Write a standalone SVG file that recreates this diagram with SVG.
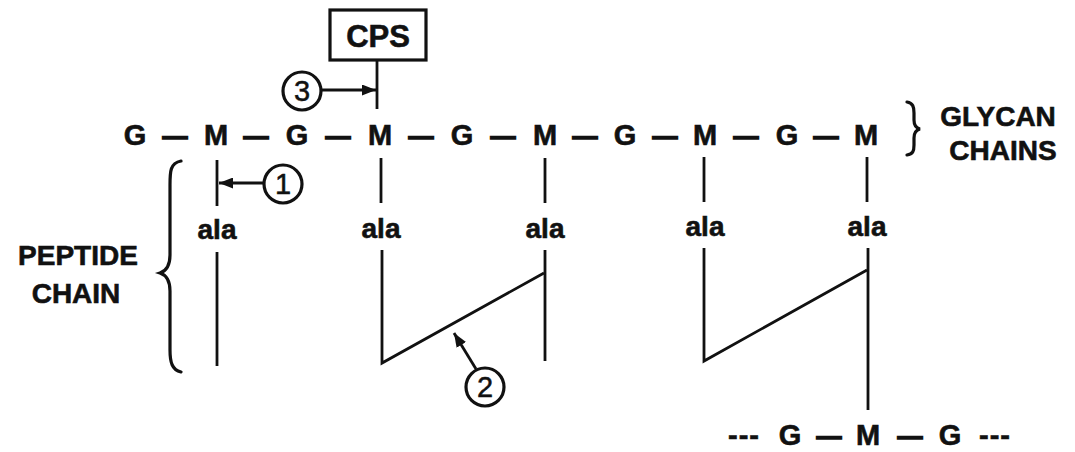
<svg xmlns="http://www.w3.org/2000/svg" width="1075" height="452" viewBox="0 0 1075 452">
<defs>
<style>
.t{font-family:"Liberation Sans",Arial,sans-serif;font-weight:bold;fill:#111;stroke:#111;stroke-width:0.6;text-anchor:middle}
.g{font-size:29px}
.d{font-size:25px;stroke-width:1.4}
.a{font-size:28px}
.n{font-family:"Liberation Sans",Arial,sans-serif;font-size:29px;fill:#111;stroke:#111;stroke-width:0.5;text-anchor:middle}
.ln{stroke:#111;stroke-width:2.8;fill:none;stroke-linecap:butt}
.c{stroke:#111;stroke-width:3.2;fill:#fff}
.br{fill:none;stroke:#111;stroke-width:3.2;stroke-linecap:round}
</style>
<marker id="ah" viewBox="0 0 14 11" refX="14" refY="5.5" markerWidth="14" markerHeight="11" markerUnits="userSpaceOnUse" orient="auto">
<path d="M0,0 L14,5.5 L0,11 z" fill="#111"/>
</marker>
</defs>
<rect width="1075" height="452" fill="#fff"/>

<g id="connectors">
<line class="ln" x1="377" y1="60" x2="377" y2="109"/>
<line class="ln" x1="217" y1="160" x2="217" y2="206"/>
<line class="ln" x1="217" y1="252" x2="217" y2="366"/>
<line class="ln" x1="381" y1="158" x2="381" y2="203"/>
<polyline class="ln" points="382,250 382,363 544,273"/>
<line class="ln" x1="545" y1="158" x2="545" y2="203"/>
<line class="ln" x1="545" y1="250" x2="545" y2="361"/>
<line class="ln" x1="704" y1="157" x2="704" y2="202"/>
<polyline class="ln" points="704,248 704,361 867,270"/>
<line class="ln" x1="867" y1="157" x2="867" y2="202"/>
<line class="ln" x1="868" y1="248" x2="868" y2="410"/>
<line class="ln" x1="263" y1="183" x2="219" y2="183" marker-end="url(#ah)"/>
<line class="ln" x1="321" y1="90" x2="376" y2="90" marker-end="url(#ah)"/>
<line class="ln" x1="476" y1="369" x2="454" y2="333" marker-end="url(#ah)"/>
</g>

<g id="cps">
<rect x="330" y="10" width="96" height="50" fill="#fff" stroke="#111" stroke-width="3.2"/>
<text class="t" x="378" y="47" font-size="31">CPS</text>
</g>

<g id="glycan-chain">
<text class="t g" x="135" y="145">G</text>
<text class="t d" x="175" y="145">—</text>
<text class="t g" x="216" y="145">M</text>
<text class="t d" x="256" y="145">—</text>
<text class="t g" x="297" y="145">G</text>
<text class="t d" x="338" y="145">—</text>
<text class="t g" x="380" y="145">M</text>
<text class="t d" x="421" y="145">—</text>
<text class="t g" x="462" y="145">G</text>
<text class="t d" x="503" y="145">—</text>
<text class="t g" x="545" y="145">M</text>
<text class="t d" x="585" y="145">—</text>
<text class="t g" x="625" y="145">G</text>
<text class="t d" x="665" y="145">—</text>
<text class="t g" x="705" y="145">M</text>
<text class="t d" x="746" y="145">—</text>
<text class="t g" x="787" y="145">G</text>
<text class="t d" x="826" y="145">—</text>
<text class="t g" x="866" y="145">M</text>
</g>

<g id="glycan-label">
<path class="br" d="M907,102 C913,103 914,107 914,113 L914,120 C914,125 916,128 920,129 C916,130 914,133 914,138 L914,145 C914,151 913,154 907,155"/>
<text class="t a" x="998" y="126">GLYCAN</text>
<text class="t a" x="1003" y="160">CHAINS</text>
</g>

<g id="ala-1"><text class="t a" x="217" y="239">ala</text></g>
<g id="ala-2"><text class="t a" x="381" y="238">ala</text></g>
<g id="ala-3"><text class="t a" x="545" y="238">ala</text></g>
<g id="ala-4"><text class="t a" x="705" y="236">ala</text></g>
<g id="ala-5"><text class="t a" x="867" y="236">ala</text></g>

<g id="peptide-label">
<path class="br" d="M181,161 C170,163 170,172 170,185 L170,255 C170,266 166,271 160,273 C166,275 170,280 170,291 L170,350 C170,362 172,370 181,372"/>
<text class="t a" x="78" y="265">PEPTIDE</text>
<text class="t a" x="76" y="303">CHAIN</text>
</g>

<g id="step-1">
<circle class="c" cx="283" cy="184" r="19"/>
<text class="n" x="283" y="194">1</text>
</g>
<g id="step-2">
<circle class="c" cx="485" cy="387" r="19"/>
<text class="n" x="485" y="397">2</text>
</g>
<g id="step-3">
<circle class="c" cx="302" cy="91" r="19"/>
<text class="n" x="302" y="101">3</text>
</g>

<g id="bottom-chain">
<text class="t g" x="744" y="445" letter-spacing="1">---</text>
<text class="t g" x="790" y="445">G</text>
<text class="t d" x="829" y="445">—</text>
<text class="t g" x="868" y="445">M</text>
<text class="t d" x="910" y="445">—</text>
<text class="t g" x="950" y="445">G</text>
<text class="t g" x="995" y="445" letter-spacing="1">---</text>
</g>
</svg>
